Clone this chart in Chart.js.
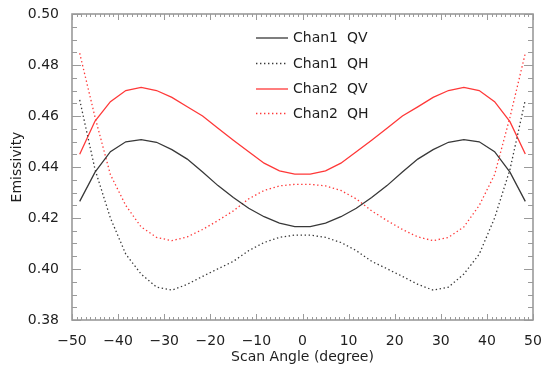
<!DOCTYPE html>
<html>
<head>
<meta charset="utf-8">
<script src="https://cdn.jsdelivr.net/npm/chart.js@4/dist/chart.umd.min.js"></script>
<style>
  html, body { margin: 0; padding: 0; background: #ffffff; }
  #wrap { width: 550px; height: 375px; }
</style>
</head>
<body>
<div id="wrap"><canvas id="c" width="550" height="375"></canvas></div>
<script>
// ---- data ----
const scanAngles = [-48.33, -45.00, -41.67, -38.33, -35.00, -31.67, -28.33, -25.00, -21.67, -18.33,
                    -15.00, -11.67, -8.33, -5.00, -1.67, 1.67, 5.00, 8.33, 11.67, 15.00,
                    18.33, 21.67, 25.00, 28.33, 31.67, 35.00, 38.33, 41.67, 45.00, 48.33];

const chan1QV = [0.4265, 0.4380, 0.4460, 0.4499, 0.4507, 0.4497, 0.4468, 0.4431, 0.4380, 0.4327,
                 0.4280, 0.4238, 0.4205, 0.4180, 0.4166, 0.4166, 0.4180, 0.4205, 0.4238, 0.4280,
                 0.4327, 0.4380, 0.4431, 0.4468, 0.4497, 0.4507, 0.4499, 0.4460, 0.4380, 0.4265];

const chan1QH = [0.4663, 0.4390, 0.4200, 0.4058, 0.3980, 0.3929, 0.3917, 0.3940, 0.3971, 0.4001,
                 0.4030, 0.4072, 0.4104, 0.4124, 0.4133, 0.4133, 0.4124, 0.4104, 0.4072, 0.4030,
                 0.4001, 0.3971, 0.3940, 0.3917, 0.3929, 0.3980, 0.4058, 0.4200, 0.4390, 0.4663];

const chan2QV = [0.4450, 0.4580, 0.4656, 0.4700, 0.4712, 0.4700, 0.4673, 0.4636, 0.4600, 0.4552,
                 0.4505, 0.4460, 0.4415, 0.4385, 0.4372, 0.4372, 0.4385, 0.4415, 0.4460, 0.4505,
                 0.4552, 0.4600, 0.4636, 0.4673, 0.4700, 0.4712, 0.4700, 0.4656, 0.4578, 0.4451];

const chan2QH = [0.4846, 0.4595, 0.4370, 0.4249, 0.4165, 0.4124, 0.4111, 0.4126, 0.4155, 0.4190,
                 0.4228, 0.4275, 0.4308, 0.4326, 0.4332, 0.4332, 0.4326, 0.4308, 0.4275, 0.4228,
                 0.4190, 0.4155, 0.4126, 0.4111, 0.4124, 0.4165, 0.4249, 0.4370, 0.4595, 0.4846];

const seriesLabels = ['Chan1  QV', 'Chan1  QH', 'Chan2  QV', 'Chan2  QH'];
const xTicks = [-50, -40, -30, -20, -10, 0, 10, 20, 30, 40, 50];
const yTicks = [0.38, 0.40, 0.42, 0.44, 0.46, 0.48, 0.50];
const xTitle = 'Scan Angle (degree)';
const yTitle = 'Emissivity';

// ---- styles ----
const BLACK = '#383838';
const RED = '#ff3838';
const AXIS = '#9a9a9a';
const TEXT = '#1e1e1e';
const FONT = 'DejaVu Sans';
const DOT = [1.4, 2.6];

function pts(vals) { return scanAngles.map((a, i) => ({ x: a, y: vals[i] })); }

const dsStyle = [
  { color: BLACK, dash: [] },
  { color: BLACK, dash: DOT },
  { color: RED, dash: [] },
  { color: RED, dash: DOT }
];
const allSeries = [chan1QV, chan1QH, chan2QV, chan2QH];

const datasets = allSeries.map((vals, i) => ({
  label: seriesLabels[i],
  data: pts(vals),
  showLine: true,
  borderColor: dsStyle[i].color,
  backgroundColor: dsStyle[i].color,
  borderWidth: 1.3,
  borderDash: dsStyle[i].dash,
  pointRadius: 0,
  tension: 0,
  fill: false
}));

const frame = {
  id: 'frame',
  afterDatasetsDraw(chart) {
    const { ctx, chartArea: a, scales: { x, y } } = chart;
    ctx.save();
    ctx.strokeStyle = AXIS;
    ctx.lineWidth = 1;
    ctx.beginPath();
    // x minor/major ticks every 1 degree
    for (let v = -50; v <= 50; v++) {
      const px = Math.round(x.getPixelForValue(v)) + 0.5;
      const len = (v % 10 === 0) ? 6 : 3;
      ctx.moveTo(px, a.bottom); ctx.lineTo(px, a.bottom - len);
      ctx.moveTo(px, a.top); ctx.lineTo(px, a.top + len);
    }
    // y ticks every 0.005
    for (let k = 0; k <= 24; k++) {
      const v = 0.38 + k * 0.005;
      const py = Math.round(y.getPixelForValue(v)) + 0.5;
      const len = (k % 4 === 0) ? 9 : 5;
      ctx.moveTo(a.left, py); ctx.lineTo(a.left + len, py);
      ctx.moveTo(a.right, py); ctx.lineTo(a.right - len, py);
    }
    ctx.stroke();
    ctx.lineWidth = 1.6;
    ctx.strokeRect(a.left, a.top, a.right - a.left, a.bottom - a.top);

    // legend
    ctx.font = '14px "' + FONT + '"';
    ctx.textBaseline = 'middle';
    ctx.textAlign = 'left';
    const rows = [38, 63.5, 89, 113.5];
    chart.data.datasets.forEach((ds, i) => {
      const yy = rows[i];
      ctx.strokeStyle = ds.borderColor;
      ctx.lineWidth = 1.3;
      ctx.setLineDash(ds.borderDash);
      ctx.beginPath();
      ctx.moveTo(256, yy); ctx.lineTo(288, yy);
      ctx.stroke();
      ctx.setLineDash([]);
      ctx.fillStyle = TEXT;
      ctx.fillText(ds.label, 293, yy + 0.5);
    });

    // axis titles
    ctx.fillStyle = TEXT;
    ctx.font = '14px "' + FONT + '"';
    ctx.textAlign = 'center';
    ctx.textBaseline = 'middle';
    ctx.fillText(xTitle, (a.left + a.right) / 2, 357);
    ctx.save();
    ctx.translate(17, (a.top + a.bottom) / 2);
    ctx.rotate(-Math.PI / 2);
    ctx.fillText(yTitle, 0, 0);
    ctx.restore();
    ctx.restore();
  }
};

new Chart(document.getElementById('c'), {
  type: 'scatter',
  data: { datasets },
  options: {
    responsive: false,
    devicePixelRatio: 1,
    animation: false,
    layout: { padding: { top: 14, right: 17, left: 0, bottom: 0 } },
    plugins: { legend: { display: false }, tooltip: { enabled: false } },
    scales: {
      x: {
        type: 'linear', min: -50, max: 50,
        afterBuildTicks: s => { s.ticks = xTicks.map(v => ({ value: v })); },
        afterFit: s => { s.height = 55; },
        grid: { display: false },
        border: { display: false },
        ticks: {
          padding: 5, color: TEXT, maxRotation: 0, autoSkip: false,
          font: { family: FONT, size: 14 },
          callback: v => String(v).replace('-', '\u2212')
        }
      },
      y: {
        type: 'linear', min: 0.38, max: 0.50,
        afterBuildTicks: s => { s.ticks = yTicks.map(v => ({ value: v })); },
        afterFit: s => { s.width = 72; },
        grid: { display: false },
        border: { display: false },
        ticks: {
          padding: 5, color: TEXT, autoSkip: false,
          font: { family: FONT, size: 14 },
          callback: v => Number(v).toFixed(2)
        }
      }
    }
  },
  plugins: [frame]
});
</script>
</body>
</html>
